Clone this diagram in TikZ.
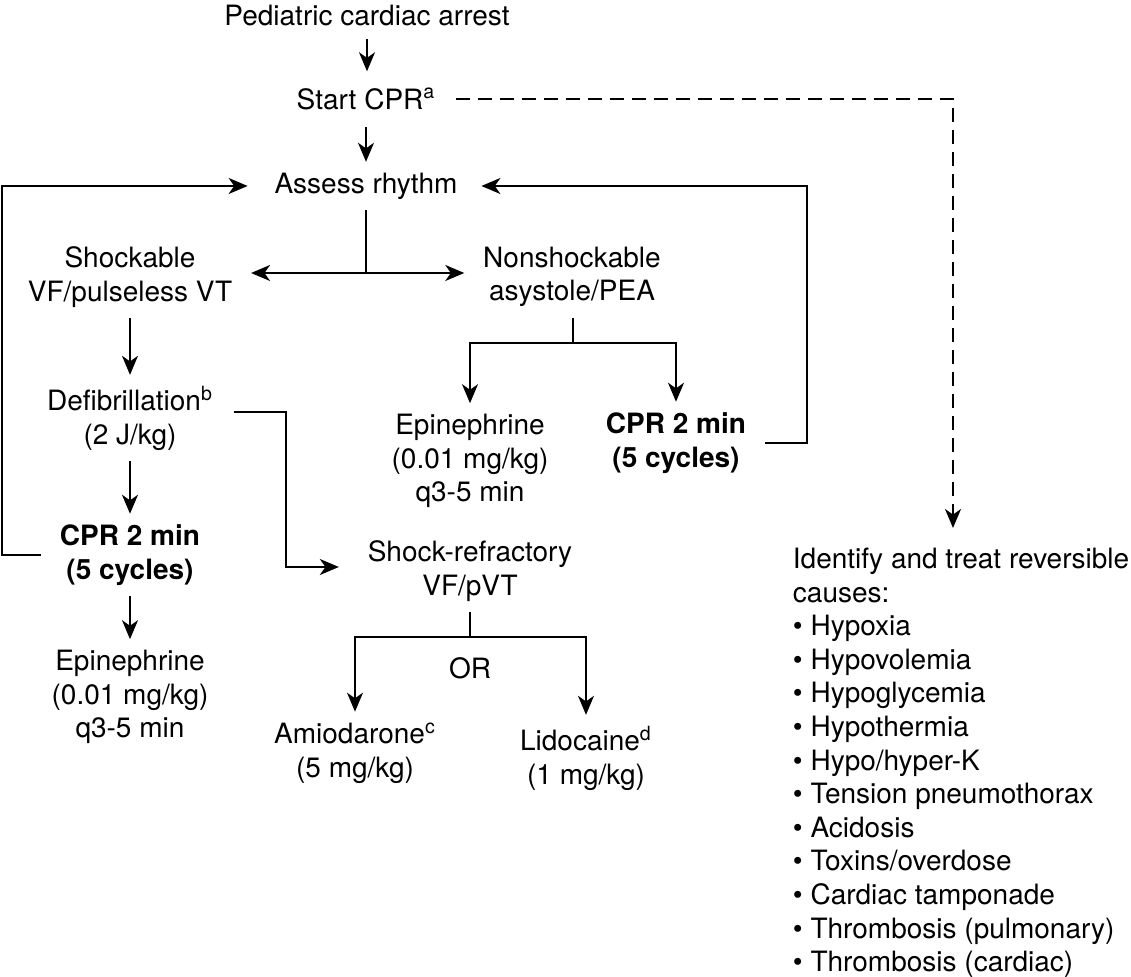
\documentclass[tikz,border=0pt]{standalone}
\usepackage{fontspec}
\setmainfont{TeX Gyre Heros}
\usetikzlibrary{arrows.meta}
\begin{document}
\begin{tikzpicture}[x=0.5pt,y=-0.5pt,line width=0.95pt,
  lbl/.style={align=center,inner xsep=4pt,inner ysep=5pt,font=\fontsize{14}{16.8}\selectfont},
  cpr/.style={lbl,font=\fontsize{14}{16.8}\selectfont\bfseries},
  arr/.style={-{Stealth[length=9.5pt,width=8pt,inset=2.8pt]}}]
\useasboundingbox (0,0) rectangle (1131,977);
\node[lbl] (arrest) at (367,16) {Pediatric cardiac arrest};
\node[lbl] (startcpr) at (366,99) {Start CPR\textsuperscript{a}};
\node[lbl] (assess) at (366,186) {Assess rhythm};
\node[lbl] (shock) at (130,277) {Shockable\\VF/pulseless VT};
\node[lbl] (nonshock) at (572,277) {Nonshockable\\asystole/PEA};
\node[lbl] (epiR) at (470,461) {Epinephrine\\(0.01 mg/kg)\\q3-5 min};
\node[cpr] (cprR) at (676,443) {CPR 2 min\\(5 cycles)};
\node[lbl] (defib) at (130,418) {Defibrillation\textsuperscript{b}\\(2 J/kg)};
\node[cpr] (cprL) at (130,555) {CPR 2 min\\(5 cycles)};
\node[lbl] (epiL) at (130,697) {Epinephrine\\(0.01 mg/kg)\\q3-5 min};
\node[lbl] (refract) at (470,571) {Shock-refractory\\VF/pVT};
\node[lbl] (orlbl) at (470,668) {OR};
\node[lbl] (amio) at (355,753) {Amiodarone\textsuperscript{c}\\(5 mg/kg)};
\node[lbl] (lido) at (586,758) {Lidocaine\textsuperscript{d}\\(1 mg/kg)};
\node[lbl,align=left,anchor=north west] (causes) at (784,537) {Identify and treat reversible\\causes:\\
  \textbullet\ Hypoxia\\\textbullet\ Hypovolemia\\\textbullet\ Hypoglycemia\\\textbullet\ Hypothermia\\
  \textbullet\ Hypo/hyper-K\\\textbullet\ Tension pneumothorax\\\textbullet\ Acidosis\\
  \textbullet\ Toxins/overdose\\\textbullet\ Cardiac tamponade\\\textbullet\ Thrombosis (pulmonary)\\
  \textbullet\ Thrombosis (cardiac)};
\coordinate (split) at (366,273);
\coordinate (splitN) at (573,343);
\coordinate (splitS) at (470,637);
\coordinate (edgeL) at (2,0);
\coordinate (edgeR) at (807,0);
\coordinate (bendD) at (286,0);
\coordinate (dashX) at (953,528);
\draw[arr,shorten <=1pt,shorten >=3pt] (arrest.south) -- (arrest.south |- startcpr.north);
\draw[arr,shorten <=3pt] (startcpr.south -| assess) -- (assess.north);
\draw[arr,dashed,dash pattern=on 7pt off 4pt,shorten <=6pt] (startcpr.east) -| (dashX);
\draw (assess) -- (split);
\draw[arr,shorten >=5pt] (split) -- (split -| shock.east);
\draw[arr,shorten >=5pt] (split) -- (split -| nonshock.west);
\draw (nonshock.south -| splitN) -- (splitN);
\draw[arr] (splitN) -| (epiR.north);
\draw[arr] (splitN) -| (cprR.north);
\draw[arr,shorten <=5pt,shorten >=7.5pt] (cprR.east) -- (cprR.east -| edgeR) |- (assess.east);
\draw[arr] (shock) -- (defib);
\draw[arr] (defib) -- (cprL);
\draw[arr] (cprL) -- (epiL);
\draw[arr,shorten <=5pt,shorten >=9pt] (cprL.west) -- (cprL.west -| edgeL) |- (assess.west);
\draw[arr,shorten <=6pt,shorten >=10pt] ([yshift=3pt]defib.east) -- ([yshift=3pt]defib.east -| bendD) |- ([yshift=2pt]refract.west);
\draw (refract) -- (splitS);
\draw[arr] (splitS) -| (amio.north);
\draw[arr] (splitS) -| (lido.north);
\end{tikzpicture}
\end{document}
